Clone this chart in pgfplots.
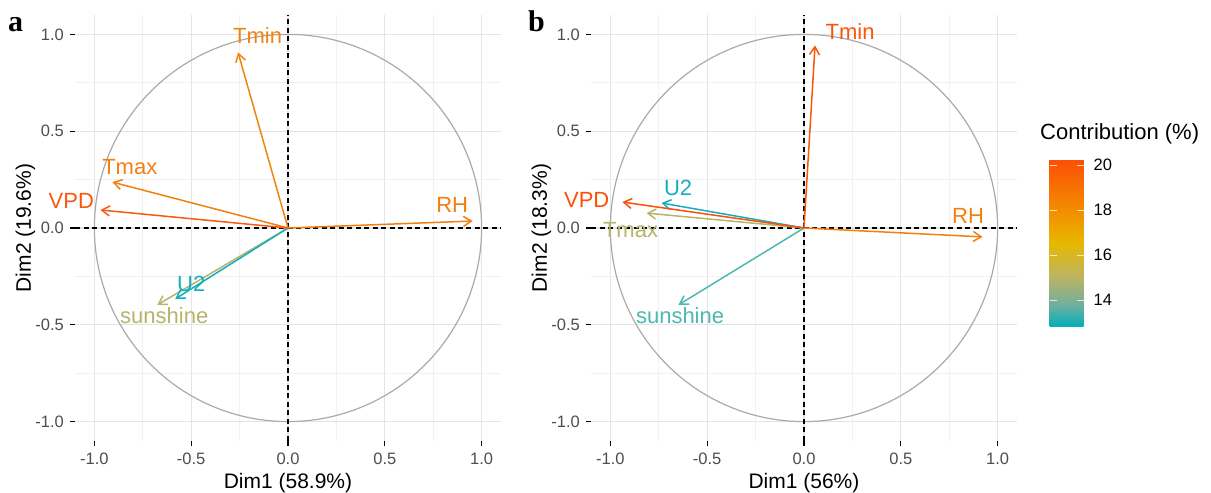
\documentclass[border=0pt]{standalone}
\usepackage{pgfplots}
\pgfplotsset{compat=1.18}
\usepackage{fontspec}
\setmainfont{Liberation Sans}
\newfontfamily\serifbold{Liberation Serif}
\usetikzlibrary{arrows.meta}

\definecolor{tickgray}{RGB}{77,77,77}
\definecolor{gridmajor}{RGB}{229,229,229}
\definecolor{gridminor}{RGB}{241,241,241}
\definecolor{circgray}{RGB}{170,170,170}
% panel a
\definecolor{aTmin}{RGB}{242,132,14}
\definecolor{aTmax}{RGB}{242,128,14}
\definecolor{aVPD}{RGB}{250,88,14}
\definecolor{aRH}{RGB}{243,125,14}
\definecolor{aU}{RGB}{20,174,190}
\definecolor{aSun}{RGB}{182,180,105}
% panel b
\definecolor{bTmin}{RGB}{252,84,10}
\definecolor{bVPD}{RGB}{252,80,10}
\definecolor{bRH}{RGB}{244,128,12}
\definecolor{bTmax}{RGB}{182,180,105}
\definecolor{bU}{RGB}{20,174,190}
\definecolor{bSun}{RGB}{78,183,176}

\newcommand\ticksize{\fontsize{16.5bp}{20bp}\selectfont}
\newcommand\axsize{\fontsize{21bp}{25bp}\selectfont}
\newcommand\lblsize{\fontsize{22bp}{26bp}\selectfont}

\pgfplotsset{
  colormap={contrib}{rgb255(0cm)=(0,175,187) rgb255(1cm)=(112,175,158) rgb255(2.2cm)=(186,180,100) rgb255(3.73cm)=(231,184,0) rgb255(5.6cm)=(245,130,0) rgb255(7.47cm)=(252,78,7)},
  pcabase/.style={
    width=426bp, height=426bp, scale only axis,
    anchor=south west,
    xmin=-1.1, xmax=1.1, ymin=-1.1, ymax=1.1,
    clip=false,
    axis line style={draw=none},
    xtick={-1,-0.5,0,0.5,1}, ytick={-1,-0.5,0,0.5,1},
    xticklabels={-1.0,-0.5,0.0,0.5,1.0},
    yticklabels={-1.0,-0.5,0.0,0.5,1.0},
    minor xtick={-0.75,-0.25,0.25,0.75},
    minor ytick={-0.75,-0.25,0.25,0.75},
    grid=both,
    major grid style={gridmajor, line width=1.2bp},
    minor grid style={gridminor, line width=0.9bp},
    tick align=outside,
    tick pos=left,
    major tick length=5bp, minor tick length=0pt,
    major tick style={black, line width=1.1bp},
    ticklabel style={font=\ticksize, text=tickgray, inner sep=0pt},
    xticklabel style={anchor=north, yshift=-7bp},
    yticklabel style={anchor=east, xshift=-6bp},
    xlabel style={at={(axis description cs:0.5,-0.0763)}, anchor=north, font=\axsize, inner sep=0pt},
    ylabel style={at={(axis description cs:-0.093,0.5)}, rotate=0, anchor=south, font=\axsize, inner sep=0pt},
  },
  arr/.style={line width=1.5bp, -{Straight Barb[length=8bp,width=10bp]}},
}

\begin{document}
\begin{tikzpicture}
\useasboundingbox (0,0) rectangle (1211bp,493bp);

% ---------------- panel a ----------------
\begin{axis}[pcabase, at={(75bp,52bp)},
  xlabel={Dim1 (58.9\%)}, ylabel={Dim2 (19.6\%)}]
\addplot[circgray, line width=1.2bp, domain=0:360, samples=181] ({cos(x)},{sin(x)});
\addplot[black, line width=1.3bp, dash pattern=on 5bp off 3.5bp] coordinates {(-1.1,0) (1.1,0)};
\addplot[black, line width=1.3bp, dash pattern=on 5bp off 3.5bp] coordinates {(0,-1.1) (0,1.1)};
\addplot[arr, aSun] coordinates {(0,0) (-0.675,-0.397)};
\addplot[arr, aU] coordinates {(0,0) (-0.582,-0.366)};
\addplot[arr, aTmin] coordinates {(0,0) (-0.258,0.907)};
\addplot[arr, aTmax] coordinates {(0,0) (-0.907,0.237)};
\addplot[arr, aVPD] coordinates {(0,0) (-0.969,0.093)};
\addplot[arr, aRH] coordinates {(0,0) (0.954,0.036)};
\node[text=aTmin, font=\lblsize, inner sep=0pt] at (axis cs:-0.157,0.992) {Tmin};
\node[text=aTmax, font=\lblsize, inner sep=0pt] at (axis cs:-0.817,0.314) {Tmax};
\node[text=aVPD, font=\lblsize, inner sep=0pt] at (axis cs:-1.119,0.142) {VPD};
\node[text=aRH, font=\lblsize, inner sep=0pt] at (axis cs:0.848,0.121) {RH};
\node[text=aU, font=\lblsize, inner sep=0pt] at (axis cs:-0.50,-0.289) {U2};
\node[text=aSun, font=\lblsize, inner sep=0pt] at (axis cs:-0.639,-0.451) {sunshine};
\end{axis}

% ---------------- panel b ----------------
\begin{axis}[pcabase, at={(591bp,52bp)},
  xlabel={Dim1 (56\%)}, ylabel={Dim2 (18.3\%)}]
\addplot[circgray, line width=1.2bp, domain=0:360, samples=181] ({cos(x)},{sin(x)});
\addplot[black, line width=1.3bp, dash pattern=on 5bp off 3.5bp] coordinates {(-1.1,0) (1.1,0)};
\addplot[black, line width=1.3bp, dash pattern=on 5bp off 3.5bp] coordinates {(0,-1.1) (0,1.1)};
\addplot[arr, bSun] coordinates {(0,0) (-0.648,-0.397)};
\addplot[arr, bTmax] coordinates {(0,0) (-0.813,0.077)};
\addplot[arr, bU] coordinates {(0,0) (-0.736,0.129)};
\addplot[arr, bVPD] coordinates {(0,0) (-0.938,0.134)};
\addplot[arr, bRH] coordinates {(0,0) (0.922,-0.046)};
\addplot[arr, bTmin] coordinates {(0,0) (0.057,0.943)};
\node[text=bTmin, font=\lblsize, inner sep=0pt] at (axis cs:0.238,1.015) {Tmin};
\node[text=bVPD, font=\lblsize, inner sep=0pt] at (axis cs:-1.122,0.147) {VPD};
\node[text=bU, font=\lblsize, inner sep=0pt] at (axis cs:-0.650,0.209) {U2};
\node[text=bTmax, font=\lblsize, inner sep=0pt] at (axis cs:-0.896,-0.013) {Tmax};
\node[text=bRH, font=\lblsize, inner sep=0pt] at (axis cs:0.847,0.064) {RH};
\node[text=bSun, font=\lblsize, inner sep=0pt] at (axis cs:-0.640,-0.451) {sunshine};
\end{axis}

% ---------------- colour bar ----------------
\begin{axis}[at={(1041bp,166bp)}, anchor=south west,
  width=34bp, height=168bp, scale only axis, hide axis,
  xmin=0, xmax=1, ymin=0, ymax=1,
  colormap name=contrib, point meta min=12.8, point meta max=20.27,
  colorbar,
  colorbar/width=34bp,
  colorbar style={at={(parent axis.south west)}, anchor=south west,
    width=34bp, height=168bp, scale only axis,
    axis line style={draw=none},
    ytick={14,16,18,20}, yticklabels={14,16,18,20},
    tick align=inside, ytick pos=both, yticklabel pos=right,
    major tick length=7bp,
    major tick style={white, line width=0.9bp, opacity=0.75},
    yticklabel style={font=\ticksize, text=black, inner sep=0pt, anchor=west, xshift=10bp}}]
\addplot[draw=none] coordinates {(0,0)};
\end{axis}

\node[anchor=base west, font=\lblsize, inner sep=0pt] at (1040bp,353bp) {Contribution (\%)};
\node[anchor=base west, font=\fontsize{30bp}{34bp}\serifbold\bfseries, inner sep=0pt] at (8bp,461bp) {a};
\node[anchor=base west, font=\fontsize{30bp}{34bp}\serifbold\bfseries, inner sep=0pt] at (528bp,461bp) {b};
\end{tikzpicture}
\end{document}
